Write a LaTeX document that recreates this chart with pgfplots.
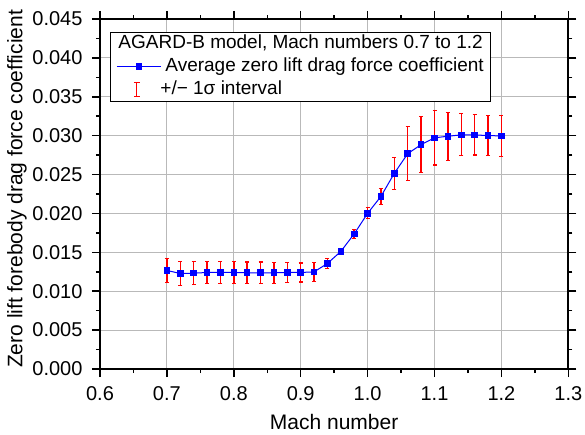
\documentclass[border=0pt]{standalone}
\usepackage{fontspec}
\setmainfont{Liberation Sans}
\usepackage{pgfplots}
\usepackage{pgfplotstable}
\pgfplotsset{compat=1.18}
\definecolor{ebred}{rgb}{1,0,0}
\pgfplotstableread{
x y e
0.70 0.01267 0.00150
0.72 0.01228 0.00150
0.74 0.01232 0.00148
0.76 0.01241 0.00146
0.78 0.01241 0.00145
0.80 0.01241 0.00146
0.82 0.01237 0.00140
0.84 0.01237 0.00140
0.86 0.01237 0.00133
0.88 0.01241 0.00128
0.90 0.01241 0.00122
0.92 0.01249 0.00125
0.94 0.01357 0.00062
0.96 0.01512 0.00040
0.98 0.01738 0.00060
1.00 0.02001 0.00071
1.02 0.02220 0.00100
1.04 0.02517 0.00206
1.06 0.02769 0.00350
1.08 0.02885 0.00357
1.10 0.02972 0.00348
1.12 0.02993 0.00310
1.14 0.03010 0.00270
1.16 0.03010 0.00258
1.18 0.03001 0.00258
1.20 0.02997 0.00262
}\dragdata
\begin{document}
\begin{tikzpicture}
\begin{axis}[
  name=ax,
  scale only axis,
  width=468.3pt, height=350pt,
  xmin=0.6, xmax=1.3, ymin=0, ymax=0.045,
  xtick={0.6,0.7,0.8,0.9,1.0,1.1,1.2,1.3},
  ytick={0,0.005,0.010,0.015,0.020,0.025,0.030,0.035,0.040,0.045},
  minor x tick num=1, minor y tick num=1,
  scaled y ticks=false, scaled x ticks=false,
  tick align=outside,
  major tick length=8pt, minor tick length=4pt,
  every tick/.style={black, line width=1.5pt},
  axis line style={black, line width=2pt},
  grid=major,
  major grid style={gray!55, line width=1.2pt},
  /pgf/number format/assume math mode=true,
  tick label style={font=\fontsize{20}{24}\selectfont},
  xticklabel style={/pgf/number format/.cd, fixed, fixed zerofill, precision=1, /tikz/yshift=-6pt},
  yticklabel style={/pgf/number format/.cd, fixed, fixed zerofill, precision=3, /tikz/xshift=-6pt},
  label style={font=\fontsize{21}{25}\selectfont},
  xlabel={Mach number},
  ylabel={Zero lift forebody drag force coefficient},
  xlabel style={at={(axis description cs:0.5,0)}, anchor=north, inner sep=0pt, yshift=-45pt},
  ylabel style={at={(axis description cs:0,0.5)}, anchor=center, inner sep=0pt, xshift=5pt, yshift=83pt},
  legend style={at={(axis description cs:0.02135,0.9637)}, anchor=north west,
    draw=black, line width=0.9pt, fill=white,
    font=\fontsize{19}{22}\selectfont,
    inner xsep=6pt, inner ysep=1pt, row sep=2pt, column sep=3pt,
    nodes={inner sep=1pt, text height=14.5pt, text depth=4.5pt}},
  legend cell align=left,
]
\addlegendimage{empty legend}
\addlegendentry{\hspace{-47pt}AGARD-B model, Mach numbers 0.7 to 1.2}
\addplot[blue, line width=1pt, mark=square*, mark size=2.8pt,
  mark options={blue, fill=blue},
  legend image code/.code={\draw[mark repeat=2,mark phase=2] plot coordinates {(0pt,0pt)(22pt,0pt)(44pt,0pt)};},
  error bars/.cd, y dir=both, y explicit,
  error bar style={ebred, line width=1.5pt},
  error mark options={rotate=90, ebred, mark size=2pt, line width=1.2pt}]
  table[x=x, y=y, y error=e] {\dragdata};
\addlegendentry{Average zero lift drag force coefficient}
\addlegendimage{legend image code/.code={
  \draw[ebred, line width=1.1pt] (20pt,-7pt) -- (20pt,7pt);
  \draw[ebred, line width=0.9pt] (17pt,7pt) -- (23pt,7pt) (17pt,-7pt) -- (23pt,-7pt);}}
\addlegendentry{\hspace{-5pt}+/− 1σ interval}
\end{axis}
\pgfresetboundingbox
\path ([xshift=-100pt,yshift=-65pt]ax.south west) rectangle ([xshift=16.7pt,yshift=19pt]ax.north east);
\end{tikzpicture}
\end{document}
